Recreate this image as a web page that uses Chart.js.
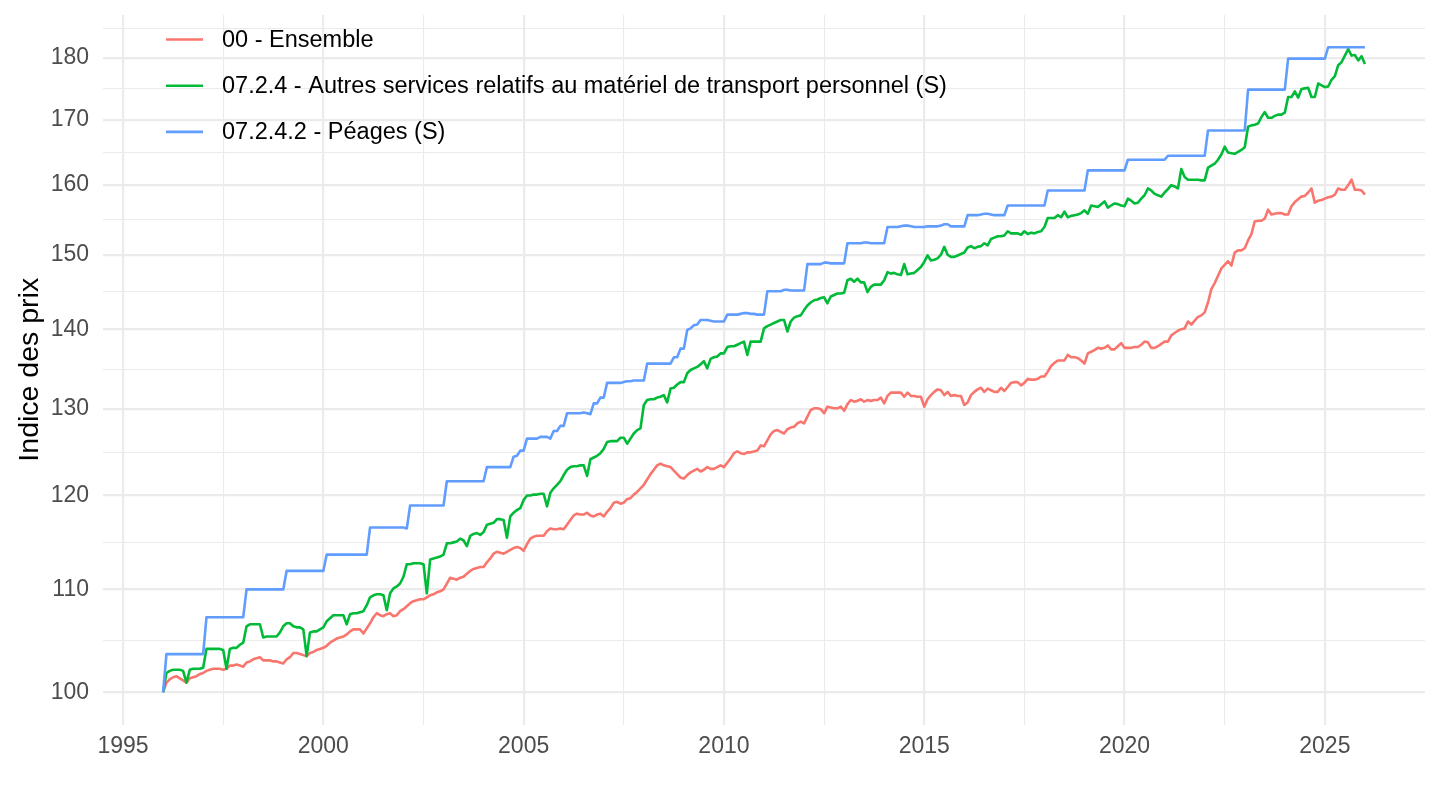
<!DOCTYPE html>
<html>
<head>
<meta charset="utf-8">
<script src="https://cdn.jsdelivr.net/npm/chart.js@4/dist/chart.umd.min.js"></script>
<style>
html,body{margin:0;padding:0;background:#ffffff;}
canvas{display:block;}
</style>
</head>
<body>
<canvas id="c" width="1440" height="810"></canvas>
<script>
// ---------- DATA (monthly, Jan 1996 .. Jan 2026) ----------
const startYear = 1996;
const seriesLabels = [
  "00 - Ensemble",
  "07.2.4 - Autres services relatifs au matériel de transport personnel (S)",
  "07.2.4.2 - Péages (S)"
];
const seriesColors = ["#F8766D", "#00BA38", "#619CFF"];

const ensemble = [
  100.0,100.9,101.2,101.4,101.5,101.3,101.1,100.9,101.3,101.4,101.5,101.7,
  101.8,102.0,102.1,102.2,102.2,102.2,102.1,102.2,102.5,102.5,102.6,102.5,
  102.4,102.8,102.9,103.1,103.2,103.3,103.0,103.0,103.0,102.9,102.9,102.8,
  102.7,103.1,103.3,103.7,103.7,103.6,103.5,103.4,103.7,103.8,104.0,104.1,
  104.2,104.4,104.7,104.9,105.1,105.2,105.3,105.5,105.8,106.0,106.0,106.0,
  105.6,106.1,106.6,107.2,107.6,107.4,107.3,107.5,107.6,107.3,107.4,107.8,
  108.0,108.3,108.6,108.8,108.9,109.0,109.0,109.2,109.4,109.5,109.7,109.8,
  110.0,110.6,111.2,111.1,111.0,111.2,111.3,111.6,111.9,112.1,112.2,112.3,
  112.3,112.8,113.2,113.7,113.9,113.8,113.7,113.9,114.1,114.3,114.4,114.3,
  114.0,114.7,115.3,115.5,115.6,115.6,115.6,116.1,116.4,116.3,116.3,116.4,
  116.3,116.8,117.3,117.8,118.0,117.9,117.9,118.1,117.8,117.7,117.9,118.0,
  117.7,118.2,118.6,119.2,119.3,119.1,119.2,119.6,119.7,120.1,120.4,120.8,
  121.2,121.8,122.4,122.9,123.4,123.6,123.4,123.3,123.2,122.8,122.4,122.0,
  121.9,122.3,122.6,122.8,123.0,122.7,122.9,123.2,123.0,123.0,123.2,123.4,
  123.2,123.7,124.2,124.8,125.0,124.8,124.7,124.9,124.9,125.0,125.1,125.7,
  125.6,126.3,127.0,127.4,127.5,127.3,127.1,127.6,127.8,127.9,128.3,128.5,
  128.3,129.1,129.9,130.1,130.1,130.0,129.5,130.3,130.2,130.1,130.1,130.3,
  129.8,130.6,131.1,130.9,131.0,131.2,130.9,131.1,131.0,131.1,131.1,131.4,
  130.7,131.6,132.0,132.0,132.0,132.0,131.5,132.0,131.6,131.6,131.5,131.5,
  130.3,131.2,131.7,132.1,132.4,132.3,131.7,132.1,131.6,131.7,131.6,131.6,
  130.5,130.8,131.7,132.1,132.4,132.6,132.1,132.5,132.3,132.1,132.1,132.6,
  132.2,132.7,133.2,133.3,133.3,132.9,133.2,133.7,133.6,133.6,133.7,134.0,
  134.0,134.6,135.3,135.7,136.0,136.0,136.0,136.7,136.4,136.4,136.3,136.0,
  135.6,136.9,137.1,137.3,137.6,137.5,137.6,137.9,137.4,137.4,137.8,138.2,
  137.6,137.6,137.6,137.7,137.7,138.0,138.4,138.3,137.6,137.6,137.8,138.1,
  138.4,138.4,139.2,139.5,139.8,140.0,140.1,141.0,140.6,141.1,141.6,141.8,
  142.2,143.5,145.3,146.1,147.1,148.1,148.6,149.1,148.5,150.3,150.6,150.6,
  150.9,152.0,152.9,154.7,154.8,154.8,155.1,156.4,155.7,155.8,155.9,155.9,
  155.7,155.7,156.9,157.5,157.9,158.3,158.4,158.9,159.5,157.4,157.7,157.8,
  158.0,158.2,158.3,158.6,159.5,159.3,159.3,160.0,160.8,159.3,159.3,159.2,
  158.6
];

const autresServices = [
  100.0,101.8,102.0,102.1,102.1,102.1,102.0,100.9,102.1,102.2,102.2,102.2,
  102.3,104.1,104.1,104.1,104.1,104.1,104.0,102.2,104.1,104.2,104.2,104.5,
  104.7,106.3,106.5,106.5,106.5,106.5,105.2,105.3,105.3,105.3,105.3,105.7,
  106.3,106.6,106.6,106.3,106.2,106.2,106.0,103.4,105.7,105.8,105.8,106.0,
  106.2,106.8,107.1,107.4,107.4,107.4,107.4,106.5,107.5,107.6,107.6,107.7,
  107.8,108.4,109.2,109.4,109.5,109.5,109.4,107.9,109.6,110.1,110.3,110.6,
  111.3,112.6,112.6,112.7,112.7,112.7,112.6,109.6,113.1,113.2,113.3,113.4,
  113.6,114.8,114.8,114.9,115.0,115.3,115.1,114.5,115.6,115.8,115.9,115.7,
  116.0,116.8,116.9,117.0,117.4,117.4,117.3,115.4,117.7,118.1,118.4,118.6,
  119.5,120.0,120.0,120.1,120.1,120.2,120.2,118.8,120.3,120.8,121.2,121.6,
  122.3,122.9,123.2,123.3,123.3,123.4,123.4,122.2,124.1,124.3,124.5,124.8,
  125.3,126.1,126.2,126.2,126.2,126.6,126.6,125.9,126.5,127.1,127.5,127.7,
  130.5,131.1,131.2,131.2,131.4,131.5,131.7,130.8,132.5,132.6,133.0,133.3,
  133.3,134.4,134.8,135.0,135.2,135.5,135.9,135.0,136.2,136.4,136.5,136.9,
  136.9,137.7,137.8,137.8,138.0,138.2,138.4,136.7,138.4,138.4,138.4,138.4,
  140.1,140.4,140.6,140.8,141.0,141.2,141.2,139.7,141.0,141.5,141.7,141.8,
  142.5,143.1,143.5,143.8,143.9,144.1,144.2,143.4,144.3,144.5,144.7,144.7,
  144.8,146.5,146.7,146.3,146.7,146.2,146.2,144.9,145.6,145.9,145.9,145.9,
  146.5,147.6,147.4,147.5,147.3,147.2,148.7,147.3,147.4,147.5,147.9,148.3,
  149.0,149.9,149.2,149.3,149.5,150.0,151.1,150.0,149.7,149.7,149.9,150.1,
  150.3,151.0,151.2,150.9,151.1,151.2,151.6,151.3,152.2,152.4,152.6,152.6,
  152.7,153.3,153.0,153.0,153.0,152.8,153.3,152.9,153.1,153.0,153.2,153.3,
  153.9,155.2,155.2,155.2,155.6,155.3,156.1,155.3,155.5,155.6,155.7,155.9,
  156.3,155.8,157.0,156.9,156.8,157.2,157.6,156.7,157.0,157.3,157.2,157.0,
  156.9,158.0,157.7,157.3,157.4,158.0,158.5,159.5,159.2,158.7,158.5,158.3,
  158.9,159.4,160.0,159.8,159.5,162.4,161.2,160.8,160.8,160.8,160.8,160.7,
  160.7,162.6,162.9,163.2,163.8,164.6,165.8,164.9,164.8,164.7,165.0,165.3,
  165.7,168.9,169.1,169.2,169.4,170.4,171.2,170.3,170.3,170.6,170.8,170.8,
  171.1,173.6,173.6,174.5,173.5,174.9,175.0,175.1,173.6,173.6,175.8,175.5,
  175.2,175.3,176.4,177.0,178.8,179.3,180.4,181.5,180.4,180.5,179.6,180.3,
  179.0
];

const peages = [
  100.0,103.6,103.6,103.6,103.6,103.6,103.6,103.6,103.6,103.6,103.6,103.6,
  103.6,107.2,107.2,107.2,107.2,107.2,107.2,107.2,107.2,107.2,107.2,107.2,
  107.2,110.0,110.0,110.0,110.0,110.0,110.0,110.0,110.0,110.0,110.0,110.0,
  110.0,111.9,111.9,111.9,111.9,111.9,111.9,111.9,111.9,111.9,111.9,111.9,
  111.9,113.6,113.6,113.6,113.6,113.6,113.6,113.6,113.6,113.6,113.6,113.6,
  113.6,113.6,116.5,116.5,116.5,116.5,116.5,116.5,116.5,116.5,116.5,116.5,
  116.5,116.4,118.9,118.9,118.9,118.9,118.9,118.9,118.9,118.9,118.9,118.9,
  118.9,121.6,121.6,121.6,121.6,121.6,121.6,121.6,121.6,121.6,121.6,121.6,
  121.6,123.2,123.2,123.2,123.2,123.2,123.2,123.2,123.2,124.4,124.5,125.1,
  125.1,126.5,126.5,126.5,126.5,126.7,126.7,126.7,126.5,127.4,127.4,128.0,
  128.0,129.5,129.5,129.5,129.5,129.5,129.6,129.5,129.4,130.7,130.7,131.4,
  131.4,133.2,133.2,133.2,133.2,133.2,133.3,133.4,133.4,133.5,133.5,133.5,
  133.5,135.6,135.6,135.6,135.6,135.6,135.6,135.6,135.6,136.4,136.4,137.5,
  137.5,139.9,140.1,140.5,140.6,141.2,141.2,141.2,141.1,141.0,141.0,141.0,
  141.0,141.9,141.9,141.9,141.9,142.0,142.1,142.1,142.0,142.0,141.9,141.9,
  141.9,145.0,145.0,145.0,145.0,145.0,145.2,145.2,145.1,145.1,145.1,145.1,
  145.1,148.7,148.7,148.7,148.7,148.7,148.9,148.9,148.8,148.8,148.8,148.8,
  148.8,151.6,151.6,151.6,151.6,151.6,151.7,151.7,151.6,151.6,151.6,151.6,
  151.6,153.9,153.9,153.9,153.9,154.0,154.1,154.1,154.0,153.9,153.9,153.9,
  153.9,154.0,154.0,154.0,154.0,154.1,154.3,154.3,154.0,154.0,154.0,154.0,
  154.0,155.6,155.6,155.6,155.6,155.7,155.8,155.8,155.7,155.6,155.6,155.6,
  155.6,157.0,157.0,157.0,157.0,157.0,157.0,157.0,157.0,157.0,157.0,157.0,
  157.0,159.2,159.2,159.2,159.2,159.2,159.2,159.2,159.2,159.2,159.2,159.2,
  159.2,162.2,162.2,162.2,162.2,162.2,162.2,162.2,162.2,162.2,162.2,162.2,
  162.2,163.8,163.8,163.8,163.8,163.8,163.8,163.8,163.8,163.8,163.8,163.8,
  163.8,164.4,164.4,164.4,164.4,164.4,164.4,164.4,164.4,164.4,164.4,164.4,
  164.4,168.3,168.3,168.3,168.3,168.3,168.3,168.3,168.3,168.3,168.3,168.3,
  168.3,174.8,174.8,174.8,174.8,174.8,174.8,174.8,174.8,174.8,174.8,174.8,
  174.8,179.9,179.9,179.9,179.9,179.9,179.9,179.9,179.9,179.9,179.9,179.9,
  179.9,181.8,181.8,181.8,181.8,181.8,181.8,181.8,181.8,181.8,181.8,181.8,
  181.8
];

const xMajorTicks = [1995, 2000, 2005, 2010, 2015, 2020, 2025];
const xMinorTicks = [1997.5, 2002.5, 2007.5, 2012.5, 2017.5, 2022.5];
const yMajorTicks = [100, 110, 120, 130, 140, 150, 160, 170, 180];
const yTitle = "Indice des prix";

// ---------- BUILD ----------
const FONT = "'Liberation Sans', Arial, Helvetica, sans-serif";
Chart.defaults.font.family = FONT;

const allSeries = [ensemble, autresServices, peages];
const toPoints = arr => arr.map((v, i) => ({ x: startYear + i / 12, y: v }));

// ggplot-like 5% expansion (log space on y)
const allVals = allSeries.flat();
const lo = Math.min(...allVals), hi = Math.max(...allVals);
const lspan = Math.log(hi) - Math.log(lo);
const yMin = Math.exp(Math.log(lo) - 0.05 * lspan);
const yMax = Math.exp(Math.log(hi) + 0.05 * lspan);
const xFirst = startYear, xLast = startYear + (ensemble.length - 1) / 12;
const xMin = xFirst - 0.05 * (xLast - xFirst);
const xMax = xLast + 0.05 * (xLast - xFirst);

// minor y breaks: geometric midpoints between majors (plus one above last)
const yMinorTicks = [];
for (let i = 0; i < yMajorTicks.length; i++) {
  const a = yMajorTicks[i];
  const b = i + 1 < yMajorTicks.length ? yMajorTicks[i + 1] : a + (a - yMajorTicks[i - 1]);
  const m = Math.sqrt(a * b);
  if (m > yMin && m < yMax) yMinorTicks.push(m);
}

const isMajor = (list, v) => list.some(t => Math.abs(t - v) < 1e-6);

const datasets = allSeries.map((arr, k) => ({
  label: seriesLabels[k],
  data: toPoints(arr),
  borderColor: seriesColors[k],
  backgroundColor: seriesColors[k],
  borderWidth: 2.6,
  pointRadius: 0,
  pointHoverRadius: 0,
  tension: 0,
  fill: false,
  borderJoinStyle: 'round',
  order: allSeries.length - 1 - k
}));

const ggLegend = {
  id: 'ggLegend',
  afterDraw(chart) {
    const ctx = chart.ctx;
    ctx.save();
    chart.data.datasets.forEach((ds, k) => {
      const y = 39.5 + k * 46.2;
      ctx.strokeStyle = ds.borderColor;
      ctx.lineWidth = 2.6;
      ctx.lineCap = 'butt';
      ctx.beginPath();
      ctx.moveTo(166, y);
      ctx.lineTo(203, y);
      ctx.stroke();
      ctx.fillStyle = '#000000';
      ctx.font = "23.5px " + FONT;
      ctx.textBaseline = 'middle';
      ctx.textAlign = 'left';
      ctx.fillText(ds.label, 222, y + 1);
    });
    ctx.restore();
  }
};

new Chart(document.getElementById('c'), {
  type: 'line',
  data: { datasets },
  options: {
    responsive: false,
    animation: false,
    devicePixelRatio: 1,
    layout: { padding: { top: 15, right: 15, left: 0, bottom: 0 } },
    plugins: {
      legend: { display: false },
      tooltip: { enabled: false }
    },
    scales: {
      x: {
        type: 'linear',
        min: xMin,
        max: xMax,
        afterBuildTicks: s => {
          s.ticks = [...xMajorTicks, ...xMinorTicks].sort((a, b) => a - b).map(v => ({ value: v }));
        },
        afterFit: s => { s.height = 85.5; s.paddingLeft = 0; s.paddingRight = 0; },
        border: { display: false },
        grid: {
          drawTicks: false,
          color: '#EBEBEB',
          lineWidth: c => (c.tick && isMajor(xMajorTicks, c.tick.value)) ? 2.2 : 1.1
        },
        ticks: {
          autoSkip: false,
          maxRotation: 0,
          color: '#4D4D4D',
          font: { size: 23 },
          padding: 8,
          callback: v => isMajor(xMajorTicks, v) ? String(Math.round(v)) : ''
        }
      },
      y: {
        type: 'logarithmic',
        min: yMin,
        max: yMax,
        afterBuildTicks: s => {
          s.ticks = [...yMajorTicks, ...yMinorTicks].sort((a, b) => a - b).map(v => ({ value: v }));
        },
        afterFit: s => { s.width = 103; s.paddingTop = 0; s.paddingBottom = 0; },
        border: { display: false },
        grid: {
          drawTicks: false,
          color: '#EBEBEB',
          lineWidth: c => (c.tick && isMajor(yMajorTicks, c.tick.value)) ? 2.2 : 1.1
        },
        ticks: {
          autoSkip: false,
          color: '#4D4D4D',
          font: { size: 23 },
          padding: 14,
          callback: v => isMajor(yMajorTicks, v) ? String(Math.round(v)) : ''
        },
        title: {
          display: true,
          text: yTitle,
          color: '#000000',
          font: { size: 28.5 },
          padding: { top: 13, bottom: 0 }
        }
      }
    }
  },
  plugins: [ggLegend]
});
</script>
</body>
</html>
